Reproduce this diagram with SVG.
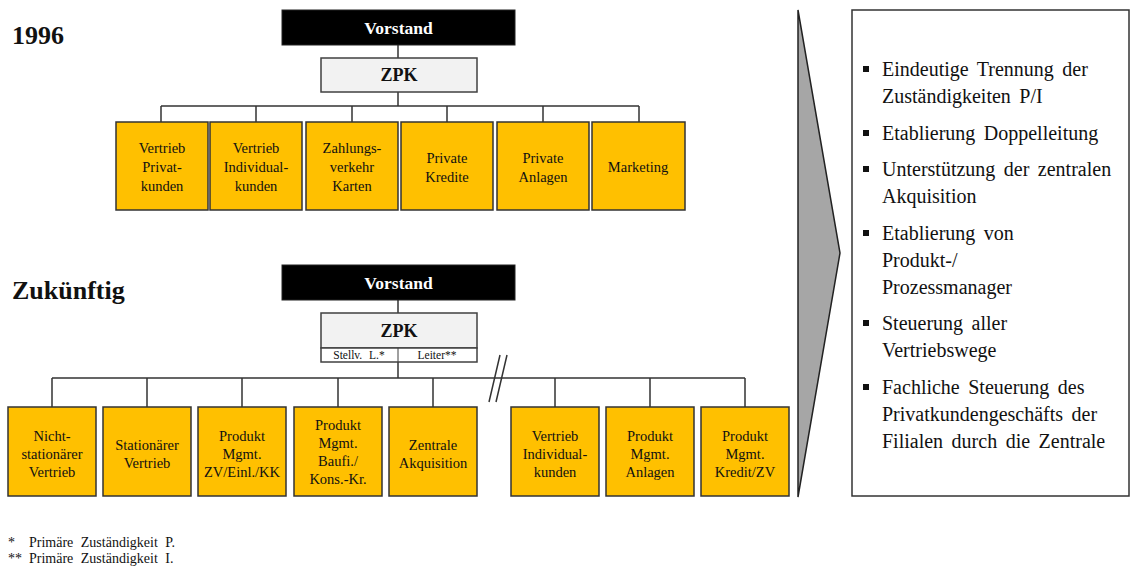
<svg xmlns="http://www.w3.org/2000/svg" width="1131" height="567" viewBox="0 0 1131 567">
<style>
text{font-family:"Liberation Serif","Times New Roman",serif;fill:#111}
.h{font-size:26px;font-weight:bold}
.vs{fill:#000;stroke:#222;stroke-width:1}
.vt{fill:#fff;font-size:17.5px;font-weight:bold;text-anchor:middle}
.zp{fill:#f2f2f2;stroke:#404040;stroke-width:1.5}
.zt{font-size:18px;font-weight:bold;text-anchor:middle}
.bx{fill:#ffc000;stroke:#333;stroke-width:1.5}
.bt{font-size:14.5px;text-anchor:middle}
.ln{fill:none;stroke:#333;stroke-width:1.5}
.st{font-size:11.5px;text-anchor:middle}
.rt{font-size:20px;word-spacing:3.5px}
.fn{font-size:14px;word-spacing:4px}
</style>
<text class="h" x="12" y="44">1996</text>
<text class="h" x="12" y="299">Zukünftig</text>

<g id="connectors">
<path class="ln" d="M398,45V58M398,92V106M161,106H639M161,106V122M256,106V122M352,106V122M447,106V122M543,106V122M639,106V122"/>
<path class="ln" d="M398,300V313M398,362V378M52,378H745M52,378V407M147,378V407M242,378V407M338,378V407M433,378V407M555,378V407M650,378V407M745,378V407"/>
<path class="ln" d="M489,402L500,355M496,402L507,355" stroke-width="1.2"/>
</g>

<g id="top-vorstand"><rect class="vs" x="282" y="10" width="233" height="35"/><text class="vt" x="398.5" y="34">Vorstand</text></g>
<g id="top-zpk"><rect class="zp" x="321" y="58" width="156" height="34"/><text class="zt" x="399" y="81">ZPK</text></g>

<g id="t1"><rect class="bx" x="116" y="122" width="92" height="88"/><text class="bt" x="162" y="153">Vertrieb</text><text class="bt" x="162" y="172">Privat-</text><text class="bt" x="162" y="191">kunden</text></g>
<g id="t2"><rect class="bx" x="210" y="122" width="92" height="88"/><text class="bt" x="256" y="153">Vertrieb</text><text class="bt" x="256" y="172">Individual-</text><text class="bt" x="256" y="191">kunden</text></g>
<g id="t3"><rect class="bx" x="306" y="122" width="92" height="88"/><text class="bt" x="352" y="153">Zahlungs-</text><text class="bt" x="352" y="172">verkehr</text><text class="bt" x="352" y="191">Karten</text></g>
<g id="t4"><rect class="bx" x="401" y="122" width="92" height="88"/><text class="bt" x="447" y="163">Private</text><text class="bt" x="447" y="182">Kredite</text></g>
<g id="t5"><rect class="bx" x="497" y="122" width="92" height="88"/><text class="bt" x="543" y="163">Private</text><text class="bt" x="543" y="182">Anlagen</text></g>
<g id="t6"><rect class="bx" x="592" y="122" width="93" height="88"/><text class="bt" x="638" y="172">Marketing</text></g>

<g id="bot-vorstand"><rect class="vs" x="282" y="265" width="233" height="35"/><text class="vt" x="398.5" y="289">Vorstand</text></g>
<g id="bot-zpk"><rect class="zp" x="321" y="313" width="156" height="35"/><text class="zt" x="399" y="337">ZPK</text>
<rect x="321" y="348" width="156" height="14" fill="#fff" stroke="#404040" stroke-width="1.5"/><line x1="398" y1="348" x2="398" y2="362" stroke="#404040" stroke-width="1"/>
<text class="st" x="359" y="359" word-spacing="4">Stellv. L.*</text><text class="st" x="437" y="359">Leiter**</text></g>

<g id="b1"><rect class="bx" x="8" y="407" width="88" height="89"/><text class="bt" x="52" y="441">Nicht-</text><text class="bt" x="52" y="459">stationärer</text><text class="bt" x="52" y="477">Vertrieb</text></g>
<g id="b2"><rect class="bx" x="103" y="407" width="88" height="89"/><text class="bt" x="147" y="450">Stationärer</text><text class="bt" x="147" y="468">Vertrieb</text></g>
<g id="b3"><rect class="bx" x="198" y="407" width="88" height="89"/><text class="bt" x="242" y="441">Produkt</text><text class="bt" x="242" y="459">Mgmt.</text><text class="bt" x="242" y="477">ZV/Einl./KK</text></g>
<g id="b4"><rect class="bx" x="294" y="407" width="88" height="89"/><text class="bt" x="338" y="430">Produkt</text><text class="bt" x="338" y="448">Mgmt.</text><text class="bt" x="338" y="466">Baufi./</text><text class="bt" x="338" y="484">Kons.-Kr.</text></g>
<g id="b5"><rect class="bx" x="389" y="407" width="88" height="89"/><text class="bt" x="433" y="450">Zentrale</text><text class="bt" x="433" y="468">Akquisition</text></g>
<g id="b6"><rect class="bx" x="511" y="407" width="88" height="89"/><text class="bt" x="555" y="441">Vertrieb</text><text class="bt" x="555" y="459">Individual-</text><text class="bt" x="555" y="477">kunden</text></g>
<g id="b7"><rect class="bx" x="606" y="407" width="88" height="89"/><text class="bt" x="650" y="441">Produkt</text><text class="bt" x="650" y="459">Mgmt.</text><text class="bt" x="650" y="477">Anlagen</text></g>
<g id="b8"><rect class="bx" x="701" y="407" width="88" height="89"/><text class="bt" x="745" y="441">Produkt</text><text class="bt" x="745" y="459">Mgmt.</text><text class="bt" x="745" y="477">Kredit/ZV</text></g>

<g id="arrow"><polygon points="798,10 840,253 798,497" fill="#a6a6a6" stroke="#222" stroke-width="1.5"/></g>

<g id="summary">
<rect x="852" y="10" width="277" height="486" fill="#fff" stroke="#333" stroke-width="1.5"/>
<g fill="#111"><rect x="863" y="66" width="6" height="6"/><rect x="863" y="130" width="6" height="6"/><rect x="863" y="166" width="6" height="6"/><rect x="863" y="230" width="6" height="6"/><rect x="863" y="320" width="6" height="6"/><rect x="863" y="384" width="6" height="6"/></g>
<text class="rt" x="882" y="76">Eindeutige Trennung der</text>
<text class="rt" x="882" y="103">Zuständigkeiten P/I</text>
<text class="rt" x="882" y="140">Etablierung Doppelleitung</text>
<text class="rt" x="882" y="176">Unterstützung der zentralen</text>
<text class="rt" x="882" y="203">Akquisition</text>
<text class="rt" x="882" y="240">Etablierung von</text>
<text class="rt" x="882" y="267">Produkt-/</text>
<text class="rt" x="882" y="294">Prozessmanager</text>
<text class="rt" x="882" y="330">Steuerung aller</text>
<text class="rt" x="882" y="357">Vertriebswege</text>
<text class="rt" x="882" y="394">Fachliche Steuerung des</text>
<text class="rt" x="882" y="421">Privatkundengeschäfts der</text>
<text class="rt" x="882" y="448">Filialen durch die Zentrale</text>
</g>

<text class="fn" x="8" y="547">*</text><text class="fn" x="29" y="547">Primäre Zuständigkeit P.</text>
<text class="fn" x="8" y="563">**</text><text class="fn" x="29" y="563">Primäre Zuständigkeit I.</text>
</svg>
